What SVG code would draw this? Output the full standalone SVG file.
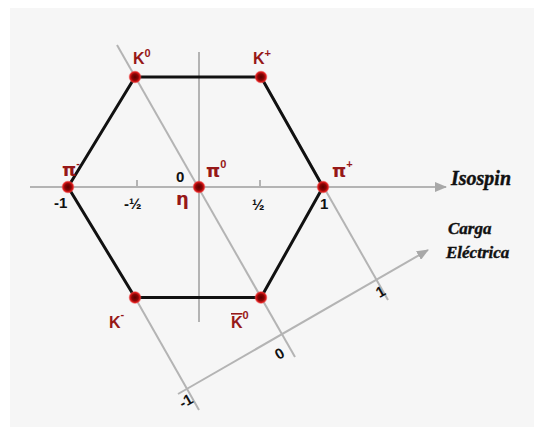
<svg xmlns="http://www.w3.org/2000/svg" width="534" height="427" viewBox="0 0 534 427">
  <defs>
    <radialGradient id="dotg" cx="0.5" cy="0.5" r="0.5">
      <stop offset="0" stop-color="#5a0000"/>
      <stop offset="0.5" stop-color="#8a0505"/>
      <stop offset="0.78" stop-color="#e01c1c"/>
      <stop offset="1" stop-color="#f06060" stop-opacity="0.3"/>
    </radialGradient>
    <marker id="arr" viewBox="0 0 12 10" refX="11" refY="5" markerWidth="12" markerHeight="10" markerUnits="userSpaceOnUse" orient="auto">
      <path d="M0,0 L12,5 L0,10 z" fill="#a8a8a8"/>
    </marker>
    <style>
      .g { stroke: #b4b4b4; stroke-width: 2; fill: none; }
      .hex { stroke: #111; stroke-width: 3; fill: none; stroke-linejoin: round; }
      .dot { fill: url(#dotg); }
      .lab { font-family: "Liberation Sans", Arial, sans-serif; font-weight: bold; fill: #961818; font-size: 16px; }
      .pi { font-family: "DejaVu Sans", "Liberation Sans", sans-serif; font-size: 18px; }
      .sup { font-family: "Liberation Sans", Arial, sans-serif; font-size: 11px; }
      .num { font-family: "Liberation Sans", Arial, sans-serif; font-weight: bold; fill: #111; font-size: 15px; }
      .ax { font-family: "Liberation Serif", "Times New Roman", serif; font-weight: bold; font-style: italic; fill: #111; stroke: #111; stroke-width: 0.4; }
    </style>
  </defs>
  <rect x="0" y="0" width="534" height="427" fill="#ffffff"/>
  <rect x="10" y="8" width="524" height="419" fill="#f6f6f6"/>

  <g id="connectors">
    <line class="g" x1="30" y1="187" x2="446" y2="187" marker-end="url(#arr)"/>
    <line class="g" x1="199" y1="52" x2="199" y2="322"/>
    <line class="g" x1="137" y1="180" x2="137" y2="187"/>
    <line class="g" x1="260" y1="180" x2="260" y2="187"/>
    <line class="g" x1="135" y1="297.5" x2="199" y2="410"/>
    <line class="g" x1="117" y1="45" x2="295" y2="357"/>
    <line class="g" x1="261" y1="77" x2="388" y2="300"/>
    <line class="g" x1="178" y1="394" x2="428" y2="250" marker-end="url(#arr)"/>
    <polygon class="hex" points="135,77 261,77 323,187 261,297.5 135,297.5 68,187"/>
  </g>

  <g id="K0">
    <circle class="dot" cx="135" cy="77" r="6.5"/>
    <text class="lab" x="133" y="64">K<tspan class="sup" dy="-7">0</tspan></text>
  </g>
  <g id="Kplus">
    <circle class="dot" cx="261" cy="77" r="6.5"/>
    <text class="lab" x="253" y="64">K<tspan class="sup" dy="-7">+</tspan></text>
  </g>
  <g id="piminus">
    <circle class="dot" cx="68" cy="187" r="6.5"/>
    <text class="lab pi" x="62" y="176">π<tspan class="sup" dy="-9">-</tspan></text>
  </g>
  <g id="pi0">
    <circle class="dot" cx="199" cy="187" r="6.5"/>
    <text class="lab pi" x="206" y="177">π<tspan class="sup" dy="-9">0</tspan></text>
    <text class="lab pi" x="176" y="205" font-size="17">η</text>
  </g>
  <g id="piplus">
    <circle class="dot" cx="323" cy="187" r="6.5"/>
    <text class="lab pi" x="332" y="177">π<tspan class="sup" dy="-9">+</tspan></text>
  </g>
  <g id="Kminus">
    <circle class="dot" cx="135" cy="297.5" r="6.5"/>
    <text class="lab" x="109" y="328">K<tspan class="sup" dy="-10">-</tspan></text>
  </g>
  <g id="K0bar">
    <circle class="dot" cx="261" cy="297.5" r="6.5"/>
    <text class="lab" x="231" y="328"><tspan style="text-decoration:overline">K</tspan><tspan class="sup" dy="-9">0</tspan></text>
  </g>

  <g id="isospin-labels">
    <text class="num" x="176" y="182">0</text>
    <text class="num" x="54" y="208">-1</text>
    <text class="num" x="124" y="209" font-size="16">-½</text>
    <text class="num" x="252" y="210" font-size="16">½</text>
    <text class="num" x="320" y="209">1</text>
    <text class="ax" x="451" y="185" font-size="20">Isospin</text>
  </g>

  <g id="charge-labels">
    <text class="num" x="186" y="406" font-size="16" text-anchor="middle" transform="rotate(-30 186 401)">-1</text>
    <text class="num" x="279" y="359" font-size="16" text-anchor="middle" transform="rotate(-30 279 353)">0</text>
    <text class="num" x="380" y="297" font-size="16" text-anchor="middle" transform="rotate(-30 380 291)">1</text>
    <text class="ax" x="448" y="234" font-size="17">Carga</text>
    <text class="ax" x="446" y="258" font-size="17">Eléctrica</text>
  </g>
</svg>
